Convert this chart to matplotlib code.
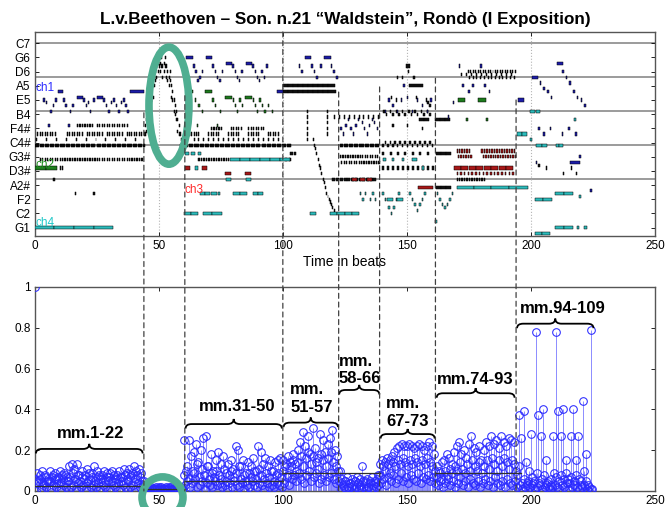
import numpy as np
import matplotlib
matplotlib.use("Agg")
import matplotlib.pyplot as plt
from matplotlib.patches import Ellipse, ConnectionPatch, PathPatch
from matplotlib.path import Path

plt.rcParams["font.family"] = ["Liberation Sans", "DejaVu Sans"]

# ---------------- piano roll data ----------------
pitch_ticks = [31, 36, 41, 46, 51, 56, 61, 66, 71, 76, 81, 86, 91, 96]
pitch_labels = ["G1", "C2", "F2", "A2#", "D3#", "G3#", "C4#", "F4#", "B4",
                "E5", "A5", "D6", "G6", "C7"]
octave_lines = [48, 60, 72, 84, 96]

# (start, duration, pitch)
ch1_notes = [
    (3.5, 0.6, 76), (4.5, 0.6, 75), (5.5, 0.6, 67), (6.2, 0.6, 72), (7.2, 0.6, 74), (8.2, 0.6, 76),
    (9.4, 2.0, 79), (11.6, 0.6, 76), (12.4, 0.6, 74), (13.5, 0.6, 67), (14.2, 0.6, 72), (15.2, 0.6, 74),
    (16.9, 2.4, 77), (19.6, 0.6, 76), (20.6, 0.6, 74), (21.4, 0.6, 75), (22.1, 0.6, 72), (23.6, 0.6, 76),
    (25.0, 2.4, 77), (27.6, 0.6, 76), (28.6, 0.6, 74), (29.7, 0.6, 72), (30.6, 0.6, 75), (31.7, 0.6, 76),
    (32.6, 0.6, 74), (33.7, 0.6, 72), (34.6, 0.6, 75), (35.7, 0.6, 76), (36.5, 0.6, 74), (37.3, 0.6, 72),
    (38.4, 5.8, 79),
    (60.8, 2.9, 91), (63.9, 0.6, 88), (64.7, 0.6, 86), (65.6, 0.6, 83), (66.4, 0.6, 84), (67.4, 0.6, 86),
    (69.0, 2.3, 91), (71.6, 0.6, 88), (72.5, 0.6, 86), (73.4, 0.6, 84), (74.3, 0.6, 83), (75.3, 0.6, 86),
    (77.0, 2.4, 89), (79.7, 0.6, 88), (80.6, 0.6, 86), (81.4, 0.6, 84), (82.3, 0.6, 83), (83.3, 0.6, 86),
    (85.0, 2.4, 89), (87.7, 0.6, 88), (88.6, 0.6, 86), (89.4, 0.6, 84), (90.3, 0.6, 83), (91.3, 0.6, 86),
    (92.3, 0.6, 84), (93.3, 0.6, 88), (97.6, 2.4, 79),
    (106.5, 0.6, 88), (107.4, 0.6, 86), (109.0, 2.4, 91), (111.5, 0.6, 88), (112.4, 0.6, 86),
    (113.4, 0.6, 84), (115.0, 0.6, 88), (116.6, 2.7, 91), (119.4, 0.6, 88), (120.3, 0.6, 86),
    (121.6, 0.6, 84),
    (123.2, 0.5, 66), (124.2, 0.5, 64), (125.2, 0.5, 67), (126.2, 0.5, 69), (127.2, 0.5, 66),
    (128.2, 0.5, 64), (129.2, 0.5, 67), (130.2, 0.5, 69), (131.8, 0.5, 68), (132.8, 0.5, 66),
    (133.8, 0.5, 64), (134.8, 0.5, 67), (135.8, 0.5, 69), (136.8, 0.5, 68), (137.8, 0.5, 66),
    (141.0, 0.6, 72), (142.5, 0.6, 76), (144.0, 0.6, 74), (146.0, 0.6, 72), (147.5, 0.6, 76),
    (148.6, 0.6, 81), (150.0, 0.6, 77), (152.0, 0.6, 72), (154.0, 0.6, 76), (156.0, 0.6, 74),
    (158.0, 0.6, 72), (159.5, 0.6, 76),
    (166.5, 0.6, 70), (168.5, 0.6, 75), (171.0, 0.6, 88), (172.4, 0.6, 81), (174.8, 0.6, 79),
    (176.4, 0.6, 81), (179.5, 0.6, 88), (181.2, 0.6, 81), (183.0, 0.6, 79), (194.6, 2.7, 76),
    (200.6, 2.2, 84), (203.5, 0.6, 82), (205.0, 0.6, 80), (206.5, 0.6, 79), (208.0, 0.6, 77),
    (210.3, 2.7, 89), (212.6, 0.6, 86), (214.0, 0.6, 84), (215.5, 0.6, 82), (217.0, 0.6, 79),
    (218.5, 0.6, 77), (220.0, 0.6, 76), (221.5, 0.6, 74), (203.0, 0.6, 66), (205.0, 0.6, 64),
    (207.5, 0.6, 66), (212.5, 0.6, 64), (215.0, 0.6, 66), (217.8, 0.6, 64), (202.0, 0.6, 54),
    (215.8, 4.0, 54), (219.5, 0.6, 56), (223.8, 0.6, 44),
]

ch2_notes = [
    (0.0, 4.5, 52), (4.5, 4.5, 52),
    (61.5, 0.6, 76), (63.2, 0.6, 79), (64.5, 0.6, 76), (65.3, 0.6, 67), (66.0, 0.6, 74),
    (67.3, 0.6, 72), (68.6, 2.7, 79), (71.6, 0.6, 76), (72.6, 0.6, 74), (73.4, 0.6, 67),
    (74.6, 0.6, 72), (76.7, 2.8, 77), (79.8, 0.6, 76), (80.6, 0.6, 74), (81.5, 0.6, 72),
    (82.5, 0.6, 76), (83.5, 0.6, 74), (84.8, 2.8, 77), (87.8, 0.6, 76), (88.6, 0.6, 74),
    (89.5, 0.6, 72), (90.5, 0.6, 76), (91.5, 0.6, 74), (92.5, 0.6, 72), (94.0, 0.6, 74),
    (95.5, 0.6, 72),
    (170.7, 2.8, 76), (178.7, 3.3, 76), (174.0, 0.6, 69), (182.0, 0.6, 69),
]

ch3_notes = [
    (60.5, 2.0, 52), (67.5, 2.0, 52), (76.8, 2.5, 50), (84.8, 2.2, 50),
    (128.0, 2.0, 48), (131.0, 2.0, 48), (134.0, 2.0, 48), (154.5, 6.0, 45),
]

ch4_notes = [
    (0.0, 7.9, 31), (7.9, 7.9, 31), (15.8, 7.9, 31), (23.7, 7.9, 31),
    (60.2, 2.8, 36), (63.0, 3.0, 36), (68.0, 3.5, 36), (71.5, 3.9, 36),
    (66.6, 2.0, 43), (68.6, 2.0, 43), (71.0, 2.5, 43), (74.0, 0.8, 43), (80.0, 2.7, 43),
    (82.7, 2.7, 43), (88.0, 2.0, 43), (90.0, 2.0, 43),
    (78.7, 4.0, 55), (82.7, 4.0, 55), (86.7, 4.0, 55), (90.7, 4.0, 55), (94.7, 4.0, 55),
    (98.7, 4.0, 55), (77.0, 2.0, 48), (85.0, 2.0, 48), (60.5, 1.5, 57), (63.0, 1.5, 57),
    (66.0, 1.0, 57), (64.5, 1.2, 52),
    (111.0, 2.4, 36), (119.2, 2.8, 36), (122.0, 2.9, 36), (124.9, 2.9, 36), (127.8, 2.9, 36),
    (131.0, 0.6, 43), (132.0, 0.6, 41), (133.0, 0.6, 43), (135.0, 0.6, 41), (136.0, 0.6, 43),
    (137.0, 0.6, 41),
    (140.0, 0.6, 43), (141.0, 0.6, 41), (142.5, 0.6, 38), (143.5, 0.6, 36), (144.5, 0.6, 38),
    (145.5, 0.6, 41), (146.5, 0.6, 43), (151.0, 0.6, 43), (152.0, 0.6, 41), (153.0, 0.6, 39),
    (154.0, 0.6, 37), (155.0, 0.6, 39), (156.0, 0.6, 41), (157.0, 0.6, 43), (162.0, 0.6, 43),
    (163.0, 0.6, 41), (164.0, 0.6, 39), (165.0, 0.6, 38), (166.0, 0.6, 39), (167.0, 0.6, 41),
    (168.0, 0.6, 43),
    (142.0, 2.5, 41), (146.0, 2.5, 41), (140.5, 1.0, 55), (144.0, 1.0, 55), (148.0, 1.0, 55),
    (152.0, 2.0, 55), (156.0, 1.0, 52),
    (170.0, 7.0, 45), (177.0, 7.0, 45), (184.0, 7.0, 45), (191.0, 7.8, 45), (161.5, 0.8, 33),
    (201.6, 3.4, 41), (205.0, 3.4, 41), (209.7, 3.6, 43), (213.3, 3.7, 43), (209.7, 3.6, 31),
    (213.3, 3.7, 31), (218.5, 1.0, 31), (221.5, 1.0, 31), (201.6, 3.0, 29), (204.6, 3.0, 29),
    (194.4, 2.0, 64), (196.4, 2.0, 64), (202.0, 2.3, 60), (204.3, 2.3, 60), (210.0, 1.5, 60),
    (211.5, 1.5, 60), (199.5, 1.0, 62), (199.5, 2.0, 72), (202.0, 1.5, 72), (217.5, 0.6, 69),
    (219.5, 0.6, 42),
]

other_notes = [
    (7.5, 0.6, 48), (10.0, 0.6, 52), (11.0, 0.6, 52), (16.2, 0.6, 43), (23.6, 0.6, 43),
    (100.0, 2.0, 81), (102.0, 2.0, 81), (104.0, 2.0, 81), (106.0, 2.0, 81), (108.0, 2.0, 81),
    (110.0, 2.0, 81), (112.0, 2.0, 81), (114.0, 2.0, 81), (116.0, 2.0, 81), (118.0, 3.0, 81),
    (100.0, 2.0, 79), (102.0, 2.0, 79), (104.0, 2.0, 79), (106.0, 2.0, 79), (108.0, 2.0, 79),
    (110.0, 2.0, 79), (112.0, 2.0, 79), (114.0, 2.0, 79), (116.0, 2.0, 79), (118.0, 3.6, 79),
    (109.8, 0.4, 62), (109.8, 0.4, 64), (109.8, 0.4, 66), (109.8, 0.4, 68), (109.8, 0.4, 70),
    (109.8, 0.4, 72), (117.6, 0.4, 64), (117.6, 0.4, 66), (117.6, 0.4, 68), (117.6, 0.4, 70),
    (117.6, 0.4, 72), (101.0, 0.6, 55), (102.5, 0.6, 55), (103.0, 1.0, 57), (104.5, 1.0, 57),
    (112.0, 0.4, 62), (112.5, 0.4, 60), (113.0, 0.4, 59), (113.5, 0.4, 57), (114.0, 0.4, 55),
    (114.5, 0.4, 53), (115.0, 0.4, 52), (115.5, 0.4, 50), (116.0, 0.4, 48), (116.5, 0.4, 47),
    (117.0, 0.4, 45), (117.5, 0.4, 43), (118.0, 0.4, 42), (118.5, 0.4, 41), (119.0, 0.4, 40),
    (119.5, 0.4, 39), (120.0, 0.4, 38), (120.5, 0.4, 37),
    (151.0, 5.5, 81), (149.7, 1.6, 88), (150.5, 0.5, 86), (146.0, 0.6, 84), (148.0, 0.6, 84),
    (152.5, 0.6, 84), (155.0, 2.0, 69), (157.0, 2.0, 69), (158.0, 0.8, 75), (159.0, 0.8, 74),
    (143.5, 0.6, 77), (145.5, 0.6, 76), (153.5, 0.6, 77), (157.5, 0.6, 76), (144.0, 0.6, 67),
    (150.0, 0.6, 67), (156.0, 0.6, 66),
    (161.4, 2.0, 69), (163.4, 2.0, 69), (165.4, 2.0, 69), (161.6, 2.0, 57), (163.6, 2.0, 57),
    (165.6, 2.0, 57), (161.6, 2.0, 45), (163.6, 2.0, 45), (165.6, 2.0, 45),
    (203.0, 0.5, 53), (206.0, 0.5, 52), (213.0, 0.5, 50), (216.0, 0.5, 52), (218.0, 0.5, 50),
]

# passage around beats 44-60 (two voices, eighth notes)
arp_start, arp_step = 44.0, 0.5
arp_upper = [64, 67, 69, 72, 74, 76, 79, 81, 84, 86, 88, 89, 91, 89, 91, 88,
             89, 91, 88, 86, 84, 86, 81, 79, 76, 74, 72, 69, 67, 64, 62, 60]
arp_lower = [60, 64, 65, 69, 71, 72, 76, 77, 81, 83, 84, 86, 88, 86, 88, 84,
             86, 88, 84, 83, 81, 83, 77, 76, 72, 71, 69, 65, 64, 60, 59, 57]

# repeated-note figures: (first onset, last onset, spacing, duration, pitch)
other_runs = [
    (0.0, 43.5, 0.5, 0.4, 60), (2.0, 43.0, 1.0, 0.5, 55),
    (1.0, 8.0, 1.0, 0.4, 64), (13.0, 19.0, 1.0, 0.4, 64), (21.0, 27.0, 1.0, 0.4, 64),
    (29.0, 35.0, 1.0, 0.4, 64), (37.0, 43.0, 1.0, 0.4, 64),
    (17.0, 23.0, 1.0, 0.5, 67), (25.0, 37.0, 1.0, 0.5, 67), (0.5, 42.5, 4.0, 0.4, 62),
    (60.0, 103.0, 0.5, 0.4, 60), (64.0, 98.0, 2.0, 0.4, 62),
    (62.0, 66.0, 1.0, 0.4, 64), (70.0, 74.0, 1.0, 0.4, 64), (78.0, 82.0, 1.0, 0.4, 64),
    (86.0, 90.0, 1.0, 0.4, 64), (94.0, 98.0, 1.0, 0.4, 64),
    (71.0, 75.0, 1.0, 0.5, 66), (79.0, 83.0, 1.0, 0.5, 66), (86.0, 92.0, 1.0, 0.5, 66),
    (66.0, 78.0, 1.0, 0.5, 55),
    (123.0, 138.5, 0.5, 0.4, 60), (120.0, 137.5, 1.5, 1.2, 48), (123.0, 138.0, 1.0, 0.5, 56),
    (123.5, 138.5, 1.0, 0.5, 54), (120.5, 138.5, 2.0, 0.4, 70),
    (140.0, 160.0, 2.0, 0.6, 60), (141.0, 159.0, 2.0, 0.6, 61), (140.0, 160.0, 2.0, 0.8, 52),
    (140.5, 158.5, 2.5, 0.6, 72), (141.5, 159.5, 2.5, 0.6, 71), (140.0, 158.0, 3.0, 0.8, 57),
    (170.0, 181.0, 1.0, 0.5, 48), (174.5, 193.5, 1.0, 0.4, 86), (175.0, 193.0, 1.5, 0.4, 84),
    (172.0, 192.0, 2.0, 0.4, 85),
]
ch3_runs = [
    (170.0, 175.0, 1.0, 0.6, 58), (170.5, 175.5, 1.0, 0.6, 56), (180.0, 193.0, 1.0, 0.6, 58),
    (180.5, 193.5, 1.0, 0.6, 56), (170.0, 193.0, 1.5, 0.6, 50), (169.0, 191.0, 3.0, 2.8, 52),
]

# ---------------- similarity stems ----------------
section_starts = [0, 44, 60, 100, 123, 139, 162, 194]
hi_vals = [
    [1.00, 0.09, 0.06, 0.10, 0.08, 0.05, 0.10, 0.07, 0.09, 0.06,
     0.10, 0.08, 0.09, 0.07, 0.12, 0.13, 0.11, 0.13, 0.08, 0.10,
     0.06, 0.11, 0.09, 0.07, 0.12, 0.10, 0.08, 0.06, 0.10, 0.09,
     0.07, 0.10, 0.08, 0.06, 0.10, 0.07, 0.11, 0.09, 0.11, 0.08,
     0.12, 0.10, 0.11, 0.09],
    [0.05, 0.02, 0.015, 0.02, 0.01, 0.02, 0.015, 0.02, 0.01, 0.02, 0.015, 0.02, 0.01, 0.02, 0.015, 0.02],
    [0.25, 0.10, 0.25, 0.17, 0.19, 0.23, 0.14, 0.20, 0.26, 0.27, 0.12, 0.18, 0.10, 0.15, 0.19,
     0.13, 0.17, 0.09, 0.13, 0.15, 0.11, 0.22, 0.20, 0.12, 0.15, 0.09, 0.14, 0.12, 0.16, 0.10,
     0.22, 0.19, 0.13, 0.16, 0.12, 0.15, 0.10, 0.14, 0.15, 0.16],
    [0.15, 0.12, 0.17, 0.14, 0.18, 0.13, 0.20, 0.24, 0.29, 0.22, 0.27, 0.18, 0.31, 0.21, 0.16,
     0.28, 0.25, 0.19, 0.23, 0.26, 0.30, 0.20, 0.17],
    [0.10, 0.06, 0.05, 0.07, 0.04, 0.06, 0.05, 0.07, 0.06, 0.12, 0.05, 0.06, 0.04, 0.07, 0.05, 0.06],
    [0.13, 0.15, 0.14, 0.16, 0.15, 0.17, 0.19, 0.21, 0.22, 0.23, 0.22, 0.22, 0.23, 0.22, 0.21,
     0.22, 0.23, 0.22, 0.20, 0.22, 0.24, 0.22, 0.18],
    [0.12, 0.10, 0.14, 0.15, 0.18, 0.16, 0.13, 0.19, 0.22, 0.24, 0.18, 0.20, 0.16, 0.23, 0.27,
     0.21, 0.19, 0.22, 0.15, 0.20, 0.24, 0.22, 0.27, 0.23, 0.25, 0.21, 0.27, 0.24, 0.22, 0.26,
     0.25, 0.24],
    [0.10, 0.37, 0.26, 0.39, 0.14, 0.05, 0.28, 0.04, 0.78, 0.37, 0.27, 0.40, 0.15, 0.05, 0.03,
     0.27, 0.78, 0.39, 0.27, 0.40, 0.15, 0.06, 0.27, 0.40, 0.15, 0.27, 0.05, 0.44, 0.18, 0.03,
     0.79],
]
mid_vals = [
    [0.06, 0.05, 0.08, 0.04, 0.07, 0.06, 0.05, 0.08, 0.06, 0.07, 0.04, 0.06, 0.08, 0.05, 0.07,
     0.09, 0.06, 0.08, 0.05, 0.07, 0.08, 0.04, 0.06, 0.09, 0.05, 0.07, 0.06, 0.08, 0.05, 0.07,
     0.09, 0.05, 0.06, 0.08, 0.07, 0.05, 0.08, 0.06, 0.07, 0.09, 0.06, 0.08, 0.07, 0.05],
    [0.015, 0.01, 0.02, 0.01, 0.015, 0.01, 0.02, 0.01, 0.015, 0.01, 0.02, 0.01, 0.015, 0.01, 0.02, 0.01],
    [0.08, 0.12, 0.06, 0.10, 0.09, 0.13, 0.07, 0.11, 0.08, 0.12, 0.06, 0.09, 0.07, 0.10, 0.08,
     0.06, 0.11, 0.05, 0.08, 0.10, 0.07, 0.09, 0.12, 0.06, 0.08, 0.05, 0.09, 0.07, 0.10, 0.06,
     0.11, 0.08, 0.06, 0.09, 0.07, 0.10, 0.05, 0.08, 0.09, 0.07],
    [0.10, 0.13, 0.08, 0.12, 0.15, 0.10, 0.14, 0.17, 0.12, 0.16, 0.19, 0.13, 0.17, 0.14, 0.11,
     0.18, 0.15, 0.12, 0.16, 0.19, 0.14, 0.12, 0.10],
    [0.04, 0.03, 0.05, 0.02, 0.04, 0.03, 0.05, 0.04, 0.03, 0.05, 0.04, 0.02, 0.05, 0.03, 0.04, 0.08],
    [0.08, 0.12, 0.10, 0.13, 0.09, 0.14, 0.12, 0.15, 0.13, 0.16, 0.14, 0.12, 0.15, 0.13, 0.16,
     0.14, 0.12, 0.15, 0.13, 0.16, 0.14, 0.12, 0.10],
    [0.07, 0.09, 0.06, 0.10, 0.08, 0.11, 0.09, 0.12, 0.10, 0.14, 0.11, 0.09, 0.13, 0.10, 0.15,
     0.12, 0.10, 0.14, 0.09, 0.12, 0.15, 0.11, 0.16, 0.13, 0.10, 0.15, 0.12, 0.16, 0.14, 0.11,
     0.15, 0.13],
    [0.08, 0.12, 0.04, 0.06, 0.03, 0.10, 0.07, 0.05, 0.09, 0.04, 0.06, 0.08, 0.03, 0.02, 0.06,
     0.09, 0.07, 0.05, 0.08, 0.06, 0.09, 0.04, 0.07, 0.05, 0.08, 0.06, 0.03, 0.10, 0.05, 0.02,
     0.01],
]
lo_vals = [
    [0.00, 0.04, 0.01, 0.03, 0.02, 0.05, 0.01, 0.03, 0.02, 0.04, 0.01, 0.03, 0.02, 0.05, 0.02,
     0.03, 0.01, 0.04, 0.02, 0.03, 0.01, 0.05, 0.02, 0.03, 0.02, 0.04, 0.01, 0.03, 0.02, 0.05,
     0.01, 0.03, 0.02, 0.04, 0.01, 0.03, 0.02, 0.05, 0.02, 0.03, 0.01, 0.04, 0.02, 0.03],
    [0.01, 0.005, 0.01, 0.005, 0.01, 0.005, 0.01, 0.005, 0.01, 0.005, 0.01, 0.005, 0.01, 0.005, 0.01, 0.005],
    [0.03, 0.05, 0.02, 0.04, 0.06, 0.02, 0.03, 0.05, 0.01, 0.04, 0.03, 0.02, 0.05, 0.03, 0.04,
     0.02, 0.03, 0.01, 0.04, 0.02, 0.05, 0.03, 0.02, 0.04, 0.01, 0.03, 0.02, 0.05, 0.03, 0.02,
     0.04, 0.03, 0.01, 0.04, 0.02, 0.03, 0.02, 0.04, 0.03, 0.02],
    [0.04, 0.07, 0.03, 0.06, 0.08, 0.05, 0.09, 0.06, 0.04, 0.08, 0.10, 0.05, 0.07, 0.09, 0.04,
     0.06, 0.08, 0.05, 0.07, 0.09, 0.06, 0.04, 0.05],
    [0.01, 0.02, 0.01, 0.015, 0.02, 0.01, 0.02, 0.01, 0.015, 0.02, 0.01, 0.02, 0.01, 0.015, 0.02, 0.03],
    [0.04, 0.06, 0.03, 0.07, 0.05, 0.08, 0.04, 0.06, 0.09, 0.05, 0.07, 0.04, 0.08, 0.06, 0.05,
     0.09, 0.04, 0.07, 0.06, 0.08, 0.05, 0.07, 0.04],
    [0.03, 0.05, 0.02, 0.04, 0.06, 0.03, 0.05, 0.02, 0.04, 0.07, 0.03, 0.05, 0.02, 0.06, 0.04,
     0.03, 0.05, 0.02, 0.04, 0.06, 0.03, 0.05, 0.02, 0.07, 0.04, 0.03, 0.05, 0.02, 0.06, 0.04,
     0.03, 0.05],
    [0.02, 0.03, 0.01, 0.02, 0.04, 0.02, 0.03, 0.01, 0.02, 0.03, 0.01, 0.02, 0.04, 0.01, 0.02,
     0.03, 0.02, 0.01, 0.03, 0.02, 0.04, 0.01, 0.02, 0.03, 0.02, 0.01, 0.02, 0.03, 0.01, 0.00,
     0.01],
]
# average level per section: (from, to, value)
section_means = [(0, 44, 0.025), (44, 60.5, 0.012), (60.5, 100, 0.05), (100, 139, 0.088),
                 (161.5, 196, 0.088)]

# section borders and where each dashed line starts in the piano roll (pitch)
borders = [44.0, 60.5, 100.0, 122.5, 139.0, 161.5, 194.0]
border_top = [71.5, 77.5, 100.0, 78.8, 80.6, 83.7, 76.0]

# brace annotations: label, x0, x1, brace level, text x, text baseline
braces = [
    ("mm.1-22", 0.5, 43.5, 0.206, 22.5, 0.262),
    ("mm.31-50", 60.8, 99.6, 0.328, 81.5, 0.392),
    ("mm.\n51-57", 100.3, 122.2, 0.335, 111.6, 0.389),
    ("mm.\n58-66", 122.7, 138.9, 0.495, 131.2, 0.528),
    ("mm.\n67-73", 139.4, 161.2, 0.279, 150.2, 0.319),
    ("mm.74-93", 162.0, 193.4, 0.479, 177.6, 0.523),
    ("mm.94-109", 194.4, 225.2, 0.820, 213.0, 0.870),
]

colors = {"ch1": "#1c1ca8", "ch2": "#1d7a1d", "ch3": "#a81818", "ch4": "#2cbcbc", "other": "#101010"}
label_colors = {"ch1": "#2a2aff", "ch2": "#1f8f1f", "ch3": "#ff2a2a", "ch4": "#22c8c8"}
teal = "#4fae91"


def expand_runs(runs):
    notes = []
    for first, last, step, dur, pitch in runs:
        for t in np.arange(first, last + 1e-6, step):
            notes.append((t, dur, pitch))
    return notes


def draw_notes(ax, notes, color):
    if not notes:
        return
    arr = np.array(notes, dtype=float)
    ax.barh(arr[:, 2], arr[:, 1], left=arr[:, 0], height=1.1, color=color,
            edgecolor="black", linewidth=0.35, zorder=3)


def draw_brace(ax, x0, x1, y, h_end=0.022, h_mid=0.025, r=2.5):
    xm = (x0 + x1) / 2
    verts = [(x0, y - h_end), (x0, y), (x0 + r, y), (xm - r, y), (xm, y), (xm, y + h_mid),
             (xm, y), (xm + r, y), (x1 - r, y), (x1, y), (x1, y - h_end)]
    codes = [Path.MOVETO, Path.CURVE3, Path.CURVE3, Path.LINETO, Path.CURVE3, Path.CURVE3,
             Path.CURVE3, Path.CURVE3, Path.LINETO, Path.CURVE3, Path.CURVE3]
    ax.add_patch(PathPatch(Path(verts, codes), fill=False, lw=1.3, color="black", zorder=6))


fig = plt.figure(figsize=(6.65, 5.07), dpi=100)
ax1 = fig.add_axes([0.0522, 0.5345, 0.9328, 0.4024])
ax2 = fig.add_axes([0.0522, 0.0316, 0.9328, 0.4024])

# ---- top: piano roll ----
for y in octave_lines:
    ax1.axhline(y, color="#8a8a8a", lw=1.2, zorder=1)
for x in [50, 100, 150, 200]:
    ax1.axvline(x, color="#b5b5b5", lw=0.8, ls=":", zorder=1)

arp_times = arp_start + arp_step * np.arange(len(arp_upper))
arp_notes = [(t, 0.4, p) for t, p in zip(arp_times, arp_upper)] + \
            [(t, 0.4, p) for t, p in zip(arp_times, arp_lower)]

draw_notes(ax1, other_notes + arp_notes + expand_runs(other_runs), colors["other"])
draw_notes(ax1, ch4_notes, colors["ch4"])
draw_notes(ax1, ch3_notes + expand_runs(ch3_runs), colors["ch3"])
draw_notes(ax1, ch2_notes, colors["ch2"])
draw_notes(ax1, ch1_notes, colors["ch1"])

ax1.text(0.5, 80.3, "ch1", color=label_colors["ch1"], fontsize=8.5, va="center", zorder=5)
ax1.text(0.5, 53.0, "ch2", color=label_colors["ch2"], fontsize=8.5, va="center", zorder=5)
ax1.text(60.5, 44.2, "ch3", color=label_colors["ch3"], fontsize=8.5, va="center", zorder=5)
ax1.text(0.5, 32.6, "ch4", color=label_colors["ch4"], fontsize=8.5, va="center", zorder=5)

ax1.add_patch(Ellipse((54.1, 74.0), 16.1, 41.3, fill=False, ec=teal, lw=5.5, zorder=7,
                      clip_on=False))

ax1.set_xlim(0, 250)
ax1.set_ylim(28, 100)
ax1.set_yticks(pitch_ticks)
ax1.set_yticklabels(pitch_labels)
ax1.set_xticks([0, 50, 100, 150, 200, 250])
ax1.set_xlabel("Time in beats", fontsize=10, labelpad=2)
ax1.set_title("L.v.Beethoven \u2013 Son. n.21 \u201cWaldstein\u201d, Rond\u00f2 (I Exposition)",
              fontsize=12.3, fontweight="bold", pad=6)

# ---- bottom: stems ----
for start, hv, mv, lv in zip(section_starts, hi_vals, mid_vals, lo_vals):
    for offset, vals in ((0.0, hv), (0.25, mv), (0.5, lv)):
        xs = start + offset + np.arange(len(vals))
        ax2.vlines(xs, 0, vals, color="#7a7aff", lw=0.6, zorder=2)
        ax2.plot(xs, vals, "o", ms=5.5, mfc="none", mec="#2a2aff", mew=0.75, zorder=3)

for x0, x1, v in section_means:
    ax2.plot([x0, x1], [v, v], color="#303030", lw=0.9, zorder=4)

for label, x0, x1, y, tx, ty in braces:
    draw_brace(ax2, x0, x1, y)
    ax2.text(tx, ty, label, ha="center", va="baseline", ma="left", fontsize=12,
             fontweight="bold", linespacing=1.2, zorder=6)

ax2.add_patch(Ellipse((51.5, -0.031), 16.5, 0.2, fill=False, ec=teal, lw=5.5, zorder=7,
                      clip_on=False))

ax2.set_xlim(0, 250)
ax2.set_ylim(0, 1)
ax2.set_xticks([0, 50, 100, 150, 200, 250])
ax2.set_yticks([0, 0.2, 0.4, 0.6, 0.8, 1.0])
ax2.set_yticklabels(["0", "0.2", "0.4", "0.6", "0.8", "1"])

for ax in (ax1, ax2):
    ax.tick_params(direction="in", top=True, right=True, length=3, width=0.6,
                   labelsize=8.5, pad=3)
    for s in ax.spines.values():
        s.set_color("#555555")
        s.set_linewidth(1.0)

# dashed section borders running through both panels
for x, top in zip(borders, border_top):
    con = ConnectionPatch(xyA=(x, top), coordsA=ax1.transData, xyB=(x, 0), coordsB=ax2.transData,
                          color="#404040", lw=0.9, ls=(0, (4, 3)), zorder=8)
    fig.add_artist(con)

fig.savefig("out.png", dpi=100)
